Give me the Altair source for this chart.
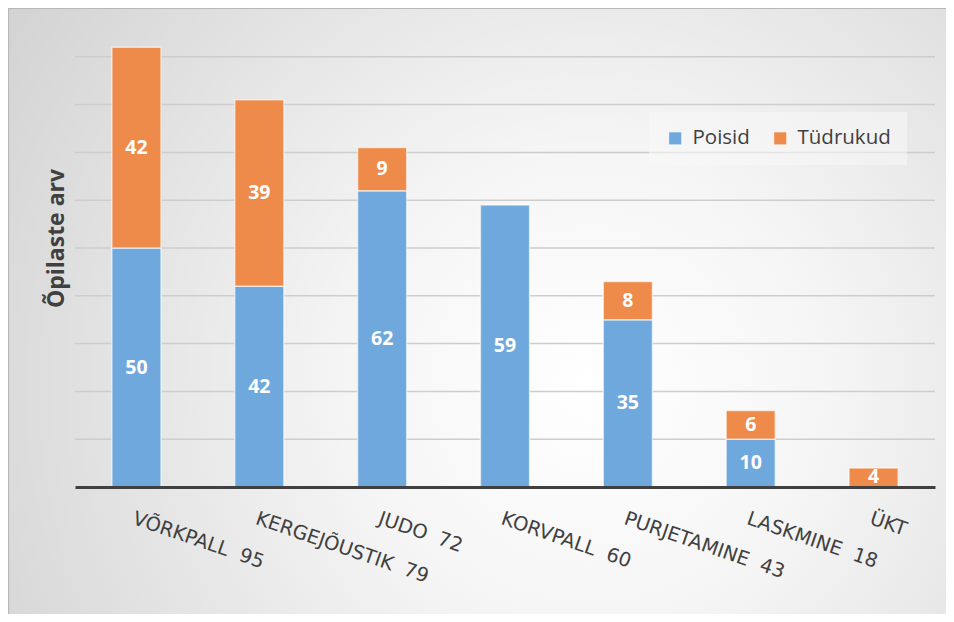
import altair as alt
import pandas as pd

NB = "\u00a0"
categories = ["VÕRKPALL" + NB + " 95", "KERGEJÕUSTIK" + NB + " 79", "JUDO" + NB + " 72",
              "KORVPALL" + NB + " 60", "PURJETAMINE" + NB + " 43", "LASKMINE" + NB + " 18", "ÜKT"]
poisid = [50, 42, 62, 59, 35, 10, 0]
tydrukud = [42, 39, 9, 0, 8, 6, 4]
series = ["Poisid", "Tüdrukud"]
colors = ["#6FA8DC", "#EE8B4B"]
grid_values = [10, 20, 30, 40, 50, 60, 70, 80, 90]

rows = []
for i, c in enumerate(categories):
    rows.append({"cat": c, "series": series[0], "value": poisid[i], "order": 0})
    rows.append({"cat": c, "series": series[1], "value": tydrukud[i], "order": 1})
df = pd.DataFrame(rows)
grid_df = pd.DataFrame({"g": grid_values})

FONT = "Open Sans"
AXFONT = "DejaVu Sans"
TXT = "#404040"

yscale = alt.Scale(domain=[0, 100], nice=False)

bg = alt.Chart(pd.DataFrame({"a": [0]})).mark_rect(
    color=alt.Gradient(
        gradient="radial",
        stops=[alt.GradientStop(color="#ffffff", offset=0),
               alt.GradientStop(color="#f5f5f5", offset=0.3),
               alt.GradientStop(color="#cbcbcb", offset=1)],
        x1=0.62, y1=0.58, r1=0, x2=0.62, y2=0.58, r2=0.85),
    stroke="#b8b8b8", strokeWidth=1.2
).encode(x=alt.value(-66.5), x2=alt.value(872), y=alt.value(-0.5), y2=alt.value(606))

grid = alt.Chart(grid_df).mark_rule(color="#cdcdcd", strokeWidth=1.5).encode(
    y=alt.Y("g:Q", scale=yscale),
    x=alt.value(0), x2=alt.value(860),
)

base = alt.Chart(df).transform_filter("datum.value > 0").transform_stack(
    stack="value", groupby=["cat"], as_=["v0", "v1"], sort=[alt.SortField("order")]
).transform_calculate(mid="(datum.v0 + datum.v1) / 2")

xenc = alt.X("cat:N", sort=categories, title=None,
             scale=alt.Scale(paddingInner=0.6, paddingOuter=0.3),
             axis=alt.Axis(labelAngle=19, labelAlign="left", labelBaseline="top",
                           labelPadding=22, labelFont=AXFONT, labelFontSize=19.5,
                           labelColor=TXT, labelLimit=0, labelOverlap=False,
                           ticks=False, domain=True, domainColor="#404040",
                           domainWidth=3, grid=False, zindex=2))

bars = base.mark_bar(stroke="white", strokeOpacity=0.6, strokeWidth=1.5).encode(
    x=xenc,
    y=alt.Y("v0:Q", scale=yscale, title="Õpilaste arv",
            axis=alt.Axis(values=grid_values, labels=False, ticks=False, domain=False,
                          grid=False, zindex=2,
                          titleFont=FONT, titleFontSize=23, titleFontWeight="bold",
                          titleColor=TXT, titleAngle=-90, titleX=-12, titleY=229,
                          titleBaseline="alphabetic", titleAlign="center")),
    y2="v1:Q",
    color=alt.Color("series:N", scale=alt.Scale(domain=series, range=colors),
                    legend=alt.Legend(title=None, orient="none", legendX=574, legendY=103,
                                      direction="horizontal", fillColor="rgba(248,248,248,0.55)",
                                      padding=16, symbolType="square", symbolSize=170,
                                      symbolStrokeColor="#ffffff", symbolStrokeWidth=0.8,
                                      labelFont=FONT, labelFontSize=20.5, labelColor=TXT,
                                      labelOffset=7, columnPadding=20)),
)

labels = base.mark_text(font=FONT, fontSize=19.5, fontWeight="bold", color="white",
                        baseline="middle", align="center").encode(
    x=alt.X("cat:N", sort=categories),
    y=alt.Y("mid:Q", scale=yscale),
    text=alt.Text("value:Q"),
)

chart = alt.layer(bg, grid, bars, labels).properties(
    width=860, height=478,
    autosize=alt.AutoSizeParams(type="none"),
    padding={"left": 67, "top": 1, "right": 11, "bottom": 127},
).configure_view(stroke=None).configure(background="white")

chart.save("out.html", embed_options={"renderer": "svg", "actions": False})
